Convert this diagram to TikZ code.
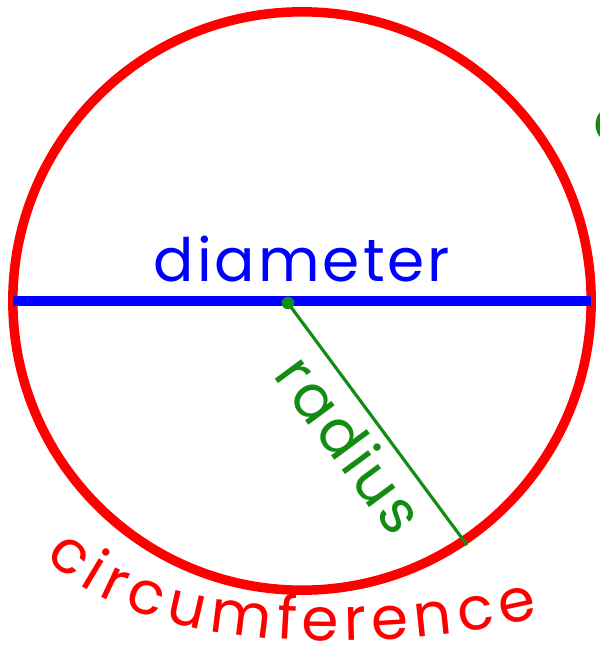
\documentclass[tikz,border=0pt]{standalone}
\usepackage{fontspec}
\setmainfont{Poppins}
\newfontfamily\handfont[LetterSpace=5]{Poppins}
\usetikzlibrary{positioning,decorations.text}

\definecolor{penred}{RGB}{255,0,0}
\definecolor{penblue}{RGB}{0,0,255}
\definecolor{pengreen}{RGB}{20,140,20}

\begin{document}
\begin{tikzpicture}[
    x=0.01cm, y=-0.01cm,
    rim/.style={circle, draw=penred, line width=2.7pt, minimum size=5.78cm, inner sep=0pt, outer sep=0pt},
    chord/.style={draw=penblue, line width=2.6pt},
    spoke/.style={draw=pengreen, line width=0.9pt},
    handtext/.style={font=\handfont\fontsize{17}{19}\selectfont, inner sep=2pt}
]
    \useasboundingbox (0,0) rectangle (599,661);
    \node [rim] (circ) at (302,301) {};
    \coordinate (ctr) at (288,303);
    \coordinate (rimpt) at (467,545);
    \coordinate (arcstart) at (54,546);
    \coordinate (arcend) at (535,604);

    \path [chord] (circ.west) -- node [above=2pt, handtext, text=penblue] (diam) {diameter} (circ.east);
    \path [spoke] (ctr) -- node [sloped, below=0.5pt, handtext, text=pengreen] (rad) {radius} (rimpt);
    \fill [pengreen] (ctr) circle (1.8pt);

    \path [decorate, decoration={text along path, text align=fit to path, raise=-4pt,
        text color=penred, text={|\fontsize{17}{19}\selectfont|circumference}}]
        (arcstart) .. controls (150,648) and (410,636) .. (arcend);

    \node [handtext, text=pengreen] (cut) at (612,125) {c};
\end{tikzpicture}
\end{document}
